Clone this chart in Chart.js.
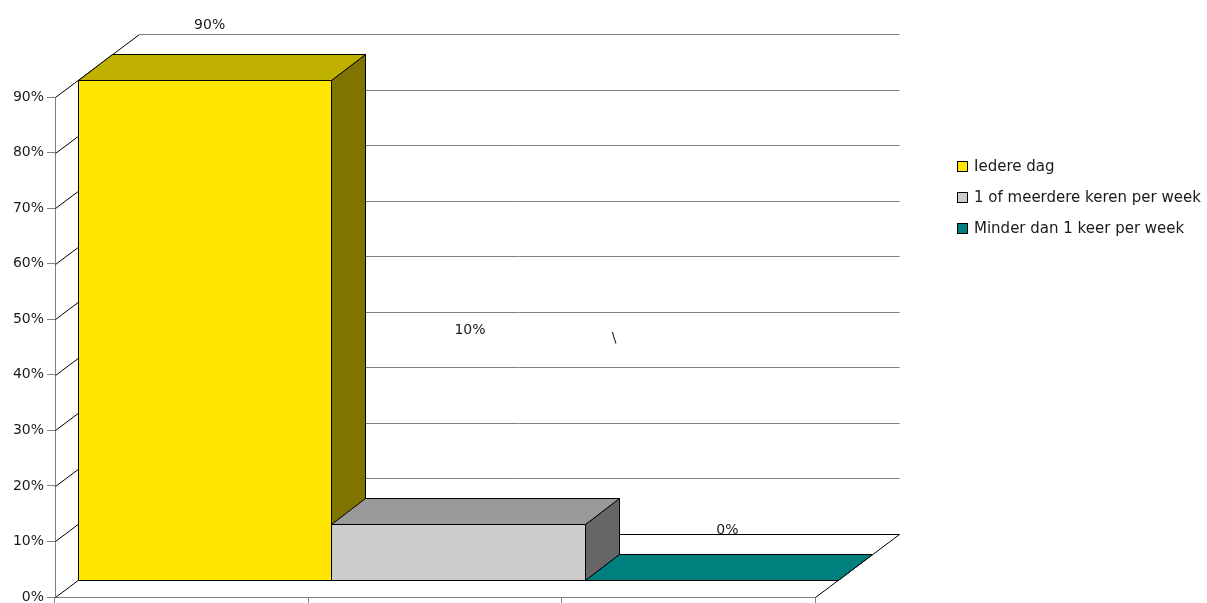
<!DOCTYPE html>
<html>
<head>
<meta charset="utf-8">
<script src="https://cdn.jsdelivr.net/npm/chart.js@4/dist/chart.umd.min.js"></script>
<style>
  body { margin: 0; background: #fff; }
  canvas { display: block; }
</style>
</head>
<body>
<canvas id="chart" width="1207" height="603"></canvas>
<script>
// Chart data
const categories = ["Iedere dag", "1 of meerdere keren per week", "Minder dan 1 keer per week"];
const shares = [90, 10, 0];
const valueLabels = ["90%", "10%", "0%"];
const yTickLabels = ["0%", "10%", "20%", "30%", "40%", "50%", "60%", "70%", "80%", "90%"];

// Face colours (front / top / side)
const frontColors = ["#ffe500", "#cccccc", "#008080"];
const topColors = ["#c0b000", "#999999", "#007f7f"];
const sideColors = ["#807300", "#666666", "#005f5f"];

const FONT = "DejaVu Sans, Verdana, sans-serif";
const TEXT = "#1a1a1a";

// 3D depth of the walls and of the bars
const WALL = [84, -63];
const BAR_FRONT = [23, -17];
const BAR_BACK = [57, -43];
// where the value labels sit, relative to the top-front centre of each bar
const labelShift = [[5, -55], [12, -194], [16, -50]];

function line(ctx, x1, y1, x2, y2, color) {
    ctx.beginPath();
    ctx.moveTo(x1, y1);
    ctx.lineTo(x2, y2);
    ctx.strokeStyle = color;
    ctx.lineWidth = 1;
    ctx.stroke();
}

function poly(ctx, pts, fill) {
    ctx.beginPath();
    ctx.moveTo(pts[0][0], pts[0][1]);
    for (let i = 1; i < pts.length; i++) ctx.lineTo(pts[i][0], pts[i][1]);
    ctx.closePath();
    ctx.fillStyle = fill;
    ctx.fill();
    ctx.strokeStyle = "#000";
    ctx.lineWidth = 1;
    ctx.stroke();
}

const bars3d = {
    id: "bars3d",
    beforeDatasetsDraw(chart) {
        const ctx = chart.ctx;
        const area = chart.chartArea;
        const yScale = chart.scales.y;
        const L = area.left + 0.5, R = area.right + 0.5, B = Math.round(area.bottom) + 0.5;

        ctx.save();
        // left wall and back wall grid lines
        yScale.ticks.forEach(t => {
            const y = Math.round(yScale.getPixelForValue(t.value)) + 0.5;
            line(ctx, L, y, L + WALL[0], y + WALL[1], "#000");
            line(ctx, L + WALL[0], y + WALL[1], R + WALL[0], y + WALL[1], t.value === 0 ? "#000" : "#808080");
        });
        // right edge of the floor
        line(ctx, R, B, R + WALL[0], B + WALL[1], "#000");

        // bars, left to right
        const meta = chart.getDatasetMeta(0);
        meta.data.forEach((el, i) => {
            const p = el.getProps(["x", "y", "base", "width"], true);
            const x0 = Math.round(p.x - p.width / 2) + 0.5;
            const x1 = Math.round(p.x + p.width / 2) + 0.5;
            const yt = Math.round(p.y) + 0.5;
            const yb = Math.round(p.base) + 0.5;
            const f = BAR_FRONT, b = BAR_BACK;
            if (yb - yt > 0.5) {
                poly(ctx, [[x0 + f[0], yt + f[1]], [x1 + f[0], yt + f[1]], [x1 + f[0], yb + f[1]], [x0 + f[0], yb + f[1]]], frontColors[i]);
                poly(ctx, [[x1 + f[0], yt + f[1]], [x1 + b[0], yt + b[1]], [x1 + b[0], yb + b[1]], [x1 + f[0], yb + f[1]]], sideColors[i]);
            }
            poly(ctx, [[x0 + f[0], yt + f[1]], [x0 + b[0], yt + b[1]], [x1 + b[0], yt + b[1]], [x1 + f[0], yt + f[1]]], topColors[i]);
        });

        // value labels
        ctx.font = "14px " + FONT;
        ctx.fillStyle = TEXT;
        ctx.textAlign = "center";
        ctx.textBaseline = "middle";
        meta.data.forEach((el, i) => {
            const p = el.getProps(["x", "y"], true);
            ctx.fillText(valueLabels[i], p.x + BAR_FRONT[0] + labelShift[i][0], p.y + BAR_FRONT[1] + labelShift[i][1]);
        });
        // stray backslash left in the original sheet
        ctx.fillText("\\", area.left + 559, area.top + 241);
        ctx.restore();
        return false;
    },
    afterDraw(chart) {
        // legend
        const ctx = chart.ctx;
        ctx.save();
        ctx.font = "15px " + FONT;
        ctx.textAlign = "left";
        ctx.textBaseline = "middle";
        categories.forEach((c, i) => {
            const y = 167 + i * 31;
            ctx.fillStyle = frontColors[i];
            ctx.fillRect(957.5, y - 5.5, 10, 10);
            ctx.strokeStyle = "#000";
            ctx.lineWidth = 1;
            ctx.strokeRect(957.5, y - 5.5, 10, 10);
            ctx.fillStyle = TEXT;
            ctx.fillText(c, 974, y);
        });
        ctx.restore();
    }
};

new Chart(document.getElementById("chart"), {
    type: "bar",
    data: {
        labels: categories,
        datasets: [{
            data: shares,
            backgroundColor: frontColors,
            barPercentage: 1,
            categoryPercentage: 1
        }]
    },
    options: {
        responsive: false,
        animation: false,
        layout: { padding: { top: 97, right: 392, left: 0, bottom: 0 } },
        scales: {
            x: {
                ticks: { display: false },
                grid: { offset: true, drawOnChartArea: false, tickLength: 6, color: "#808080" },
                border: { color: "#808080" },
                afterFit(s) { s.height = 6; s.paddingLeft = 0; s.paddingRight = 0; }
            },
            y: {
                min: 0,
                max: 90,
                ticks: {
                    stepSize: 10,
                    padding: 3,
                    color: TEXT,
                    font: { family: FONT, size: 14 },
                    callback: (v, i) => yTickLabels[i]
                },
                grid: { drawOnChartArea: false, tickLength: 8, color: "#808080" },
                border: { color: "#808080" },
                afterFit(s) { s.width = 55; s.paddingTop = 0; s.paddingBottom = 0; }
            }
        },
        plugins: {
            legend: { display: false },
            tooltip: { enabled: false }
        }
    },
    plugins: [bars3d]
});
</script>
</body>
</html>
